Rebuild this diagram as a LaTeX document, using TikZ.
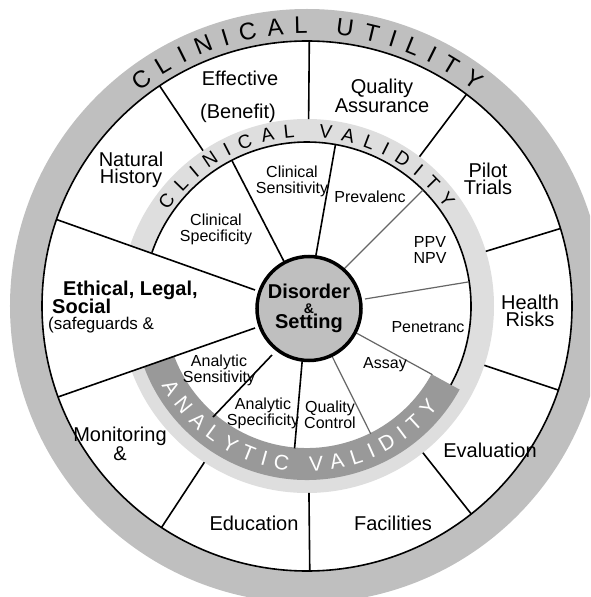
\documentclass[tikz,border=0pt]{standalone}
\usepackage{fontspec}
\setmainfont{Liberation Sans}
\usetikzlibrary{decorations.text}
\definecolor{utilgray}{gray}{0.75}
\definecolor{valgray}{gray}{0.87}
\definecolor{anagray}{gray}{0.6}
\definecolor{hubgray}{gray}{0.75}
\tikzset{
  outer label/.style={font=\fontsize{20}{17}\selectfont, align=center, inner sep=0pt},
  inner label/.style={font=\fontsize{16}{16}\selectfont, align=center, inner sep=0pt},
  divider/.style={line width=1.6pt},
  soft divider/.style={line width=1.2pt, draw=black!60},
  hub/.style={circle, draw, line width=3.5pt, fill=hubgray, minimum size=104pt,
    inner sep=0pt, align=center, font=\bfseries\fontsize{20}{15}\selectfont}
}

\begin{document}
\begin{tikzpicture}[x=1pt, y=1pt]
  \clip (-307,-291) rectangle (283,306);
  % rings
  \fill[utilgray] (0,0) circle (297);
  \fill[white] (0,0) circle (265);
  \fill[valgray] (0,0) circle (187);
  \fill[white] (0,0) circle (164);
  \fill[anagray] (198:142) arc (198:331.3:142) -- (331.3:174) arc (331.3:198:174) -- cycle;
  % ethical sector runs through the middle ring
  \fill[white] (-52,-22) -- (200.07:265) arc (200.07:160.95:265) -- (-52,16) -- cycle;
  \draw[divider] (0,0) circle (265);
  \draw[divider] (-28.7:164) arc (-28.7:161:164);

  % outer sectors
  \foreach \a in {89.5,53,17,-18.5,-51.7,-89.4,-123.3,123.8}
    \draw[divider] (\a:187) -- (\a:265);
  \draw[divider] (-52,16) -- (160.95:265);
  \draw[divider] (-52,-22) -- (200.07:265);

  % inner sectors
  \draw[divider] (117.3:50) -- (117.3:164);
  \draw[divider] (80:50) -- (80:164);
  \draw[soft divider] (45:50) -- (45:164);
  \draw[soft divider] (58,7) -- (161,24);
  \draw[soft divider] (-28.7:50) -- (-28.7:143);
  \draw[soft divider] (-63.5:50) -- (-63.5:143);
  \draw[divider] (-95:50) -- (-95:143);
  \draw[divider] (-35,-49) -- (-94,-111);

  % ring titles
  \path[decorate, decoration={text along path, text align={fit to path},
    text={|\fontsize{24}{24}\selectfont|CLINICAL UTILITY}}]
    (128:272.5) arc (128:52:272.5);
  \path[decorate, decoration={text along path, text align={fit to path},
    text={|\fontsize{19}{19}\selectfont|CLINICAL VALIDITY}}]
    (145.5:169) arc (145.5:35:169);
  \path[decorate, decoration={text along path, text align={fit to path},
    text={|\color{white}\fontsize{21}{21}\selectfont|ANALYTIC VALIDITY}}]
    (208.5:165.5) arc (208.5:322.5:165.5);

  % hub
  \node[hub] (hub) at (2,-2.5) {Disorder\\{\fontsize{14}{14}\selectfont\&}\\Setting};

  % outer labels
  \node[outer label] (effective) at (-67,228) {Effective};
  \node[outer label] (benefit) at (-69,193) {(Benefit)};
  \node[outer label] (assurance) at (75,210) {Quality\\Assurance};
  \node[outer label] (history) at (-176,136.5) {Natural\\History};
  \node[outer label] (pilot) at (181,127.5) {Pilot\\Trials};
  \node[outer label] (risks) at (223,-4.5) {Health\\Risks};
  \node[outer label] (evaluation) at (183,-144) {Evaluation};
  \node[outer label] (facilities) at (86,-217) {Facilities};
  \node[outer label] (education) at (-53,-217) {Education};
  \node[outer label] (monitoring) at (-187,-137.5) {Monitoring\\\&};
  \node[anchor=west, inner sep=0pt, font=\bfseries\fontsize{20}{20}\selectfont]
    (ethical) at (-244,16) {Ethical, Legal,};
  \node[anchor=west, inner sep=0pt, font=\bfseries\fontsize{20}{20}\selectfont]
    (social) at (-255,0) {Social};
  \node[anchor=west, inner sep=0pt, font=\fontsize{17}{17}\selectfont]
    (safeguards) at (-259,-19) {(safeguards \&};

  % inner labels
  \node[inner label] (clinspec) at (-91,77) {Clinical\\Specificity};
  \node[inner label] (clinsens) at (-15,124.5) {Clinical\\Sensitivity};
  \node[inner label] (prevalence) at (63,109) {Prevalenc};
  \node[inner label] (ppv) at (123,56) {PPV\\NPV};
  \node[inner label] (penetrance) at (121,-21) {Penetranc};
  \node[inner label] (assay) at (78,-59) {Assay};
  \node[inner label] (qcontrol) at (23,-109) {Quality\\Control};
  \node[inner label] (anspec) at (-44,-107.5) {Analytic\\Specificity};
  \node[inner label] (ansens) at (-88,-64.5) {Analytic\\Sensitivity};
\end{tikzpicture}
\end{document}
